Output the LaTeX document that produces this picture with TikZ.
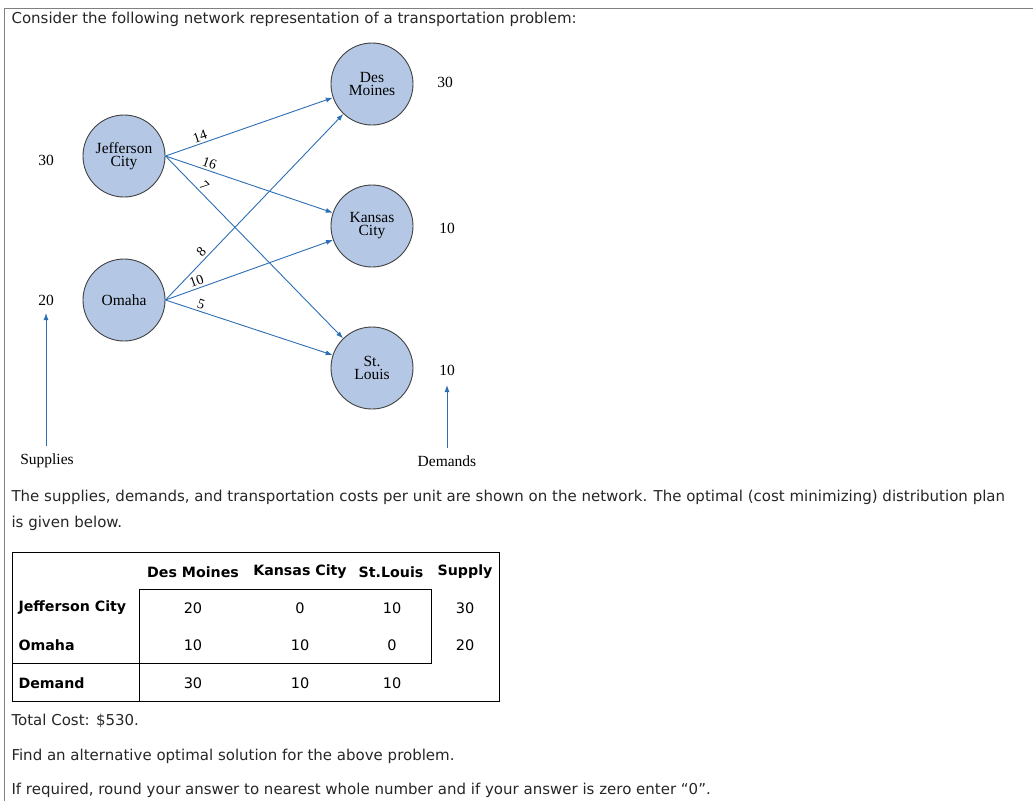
\documentclass[tikz,border=0pt]{standalone}
\usepackage{fontspec}
\setmainfont{DejaVu Sans}
\newfontfamily\diag{Liberation Serif}
\usetikzlibrary{arrows.meta}
\definecolor{edge}{RGB}{45,110,180}
\definecolor{cfill}{RGB}{180,200,230}
\begin{document}
\begin{tikzpicture}[x=1pt,y=-1pt,
  city/.style={circle,draw=black!75,line width=0.9pt,fill=cfill,minimum size=82pt,inner sep=0pt,align=center,font=\diag\fontsize{15.5}{13}\selectfont},
  lab/.style={font=\diag\fontsize{15.5}{16}\selectfont},
  elab/.style={font=\diag\fontsize{14}{14}\selectfont,above,sloped,inner sep=2pt},
  arr/.style={draw=edge,line width=0.9pt,-{Latex[length=7pt,width=5pt]}},
  txt/.style={anchor=west,font=\fontsize{15}{18}\selectfont,text=black!85},
  th/.style={font=\bfseries\fontsize{14.2}{18}\selectfont},
  td/.style={font=\fontsize{14.5}{18}\selectfont}]
\useasboundingbox (0,0) rectangle (1033,801);
\draw[black!50] (4,801) -- (4,8) -- (1033,8);
\node[txt] (t1) at (8,19) {Consider the following network representation of a transportation problem:};
\node[city] (dm) at (372,84) {Des\\Moines};
\node[city] (jc) at (124,156) {Jefferson\\City};
\node[city] (kc) at (372,226) {Kansas\\City};
\node[city] (om) at (124,300) {Omaha};
\node[city] (sl) at (372,368) {St.\\Louis};
\draw[arr] (jc.east) -- node[elab,pos=0.22] (e1) {14} (dm);
\draw[arr] (jc.east) -- node[elab,pos=0.25] (e2) {16} (kc);
\draw[arr] (jc.east) -- node[elab,pos=0.19] (e3) {7} (sl);
\draw[arr] (om.east) -- node[elab,pos=0.23] (e4) {8} (dm);
\draw[arr] (om.east) -- node[elab,pos=0.2] (e5) {10} (kc);
\draw[arr] (om.east) -- node[elab,pos=0.2] (e6) {5} (sl);
\node[lab] (s1) at (46,160) {30};
\node[lab] (s2) at (46,300) {20};
\node[lab] (d1) at (445,82) {30};
\node[lab] (d2) at (447,228) {10};
\node[lab] (d3) at (447,370) {10};
\node[lab] (sup) at (47,461) {Supplies};
\node[lab] (dem) at (447,461) {Demands};
\draw[arr] (sup.north) ++(-1,-4) coordinate (sa) -- (46,313) coordinate (sb);
\draw[arr] (dem.north) ++(0,-4) coordinate (da) -- (447,385) coordinate (db);
\node[txt] (t2) at (8,497) {The supplies, demands, and transportation costs per unit are shown on the network. The optimal (cost minimizing) distribution plan};
\node[txt] (t3) at (8,523) {is given below.};
% table
\draw[black,line width=0.8pt] (12,552) rectangle (499,701);
\draw[black,line width=0.8pt] (139,701) -- (139,589) -- (431,589) -- (431,663) -- (12,663);
\node[th] (h1) at (193,572) {Des Moines};
\node[th] (h2) at (300,572) {Kansas City};
\node[th] (h3) at (391,572) {St.Louis};
\node[th] (h4) at (465,572) {Supply};
\node[th,anchor=west] (r1) at (15,608) {Jefferson City};
\node[th,anchor=west] (r2) at (15,645) {Omaha};
\node[th,anchor=west] (r3) at (15,683) {Demand};
\node[td] at (193,608) {20}; \node[td] at (300,608) {0}; \node[td] at (392,608) {10}; \node[td] at (465,608) {30};
\node[td] at (193,645) {10}; \node[td] at (300,645) {10}; \node[td] at (392,645) {0}; \node[td] at (465,645) {20};
\node[td] at (193,683) {30}; \node[td] at (300,683) {10}; \node[td] at (392,683) {10};
\node[txt] (t4) at (8,721) {Total Cost: \$530.};
\node[txt] (t5) at (8,756) {Find an alternative optimal solution for the above problem.};
\node[txt] (t6) at (8,790) {If required, round your answer to nearest whole number and if your answer is zero enter “0”.};
\end{tikzpicture}
\end{document}
